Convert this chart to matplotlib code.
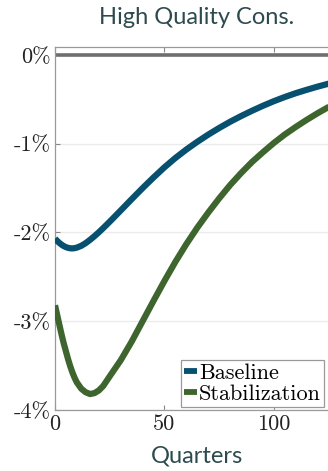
import matplotlib
matplotlib.use("Agg")
import matplotlib.pyplot as plt
from matplotlib.lines import Line2D

# Impulse responses (percent deviation) by quarter
quarters = [0, 1, 2, 3, 4, 5, 6, 7, 8, 9, 10, 12, 14, 16, 18, 20, 22, 25,
            30, 35, 40, 45, 50, 55, 60, 65, 70, 75, 80, 85, 90, 95, 100,
            105, 110, 115, 120, 125, 130]
baseline = [-2.07, -2.095, -2.118, -2.137, -2.153, -2.165, -2.173, -2.178, -2.179,
            -2.176, -2.170, -2.150, -2.120, -2.083, -2.042, -1.998, -1.951, -1.878,
            -1.752, -1.625, -1.500, -1.380, -1.265, -1.160, -1.065, -0.978, -0.897,
            -0.822, -0.752, -0.688, -0.628, -0.572, -0.520, -0.473, -0.430, -0.392,
            -0.356, -0.323, -0.293]
stabilization = [-2.82, -2.93, -3.04, -3.15, -3.25, -3.34, -3.43, -3.51, -3.58,
                 -3.64, -3.69, -3.76, -3.80, -3.82, -3.81, -3.78, -3.73, -3.62,
                 -3.44, -3.23, -3.00, -2.77, -2.545, -2.33, -2.13, -1.945, -1.775,
                 -1.615, -1.465, -1.33, -1.205, -1.095, -0.99, -0.895, -0.81, -0.73,
                 -0.655, -0.585, -0.52]

series_names = ["Baseline", "Stabilization"]
series_colors = ["#07506f", "#3f652f"]
y_ticks = [0, -1, -2, -3, -4]
y_tick_labels = ["0%", "-1%", "-2%", "-3%", "-4%"]
x_ticks = [0, 50, 100]
x_tick_labels = ["0", "50", "100"]

W, H = 328, 471
fig = plt.figure(figsize=(W / 100, H / 100), dpi=100)
left_px, right_px, top_px, bottom_px = 55, 339, 47, 410
ax = fig.add_axes([left_px / W, 1 - bottom_px / H,
                   (right_px - left_px) / W, (bottom_px - top_px) / H])

ax.set_xlim(0, 129.7)
ax.set_ylim(-4, 0.09)

ax.grid(axis="y", color="#ebebeb", linewidth=1.0, zorder=0)
ax.axhline(0, color="#6e6e6e", linewidth=2.6, zorder=2)

for vals, name, col in zip([baseline, stabilization], series_names, series_colors):
    ax.plot(quarters, vals, color=col, linewidth=4.5, solid_capstyle="butt",
            solid_joinstyle="round", label=name, zorder=3)

serif = "cmr10"
ax.set_yticks(y_ticks)
ax.set_yticklabels(y_tick_labels, fontfamily=serif, fontsize=16, color="#222222")
ax.set_xticks(x_ticks)
ax.set_xticklabels(x_tick_labels, fontfamily=serif, fontsize=16, color="#222222")
ax.tick_params(direction="in", length=3.5, width=0.8, color="#888888",
               top=True, right=True, pad=3)

for s in ax.spines.values():
    s.set_color("#9a9a9a")
    s.set_linewidth(0.9)

label_font = dict(fontfamily="Lato", fontsize=17, color="#2d4a4e")
fig.text(197 / W, 1 - 17 / H, "High Quality Cons.", ha="center", va="center",
         **label_font)
fig.text(197 / W, 1 - 456 / H, "Quarters", ha="center", va="center",
         **label_font)

handles = [Line2D([], [], color=c, linewidth=4.2, solid_capstyle="butt")
           for c in series_colors]
leg = ax.legend(handles, series_names, loc="lower right",
                bbox_to_anchor=(324 / W, 1 - 407 / H),
                bbox_transform=fig.transFigure,
                prop={"family": serif, "size": 16},
                handlelength=0.55, handletextpad=0.1, borderpad=0.15,
                labelspacing=0.05, borderaxespad=0, fancybox=False,
                framealpha=1, edgecolor="#9a9a9a")
leg.get_frame().set_linewidth(0.9)

fig.savefig("out.png", dpi=100)
